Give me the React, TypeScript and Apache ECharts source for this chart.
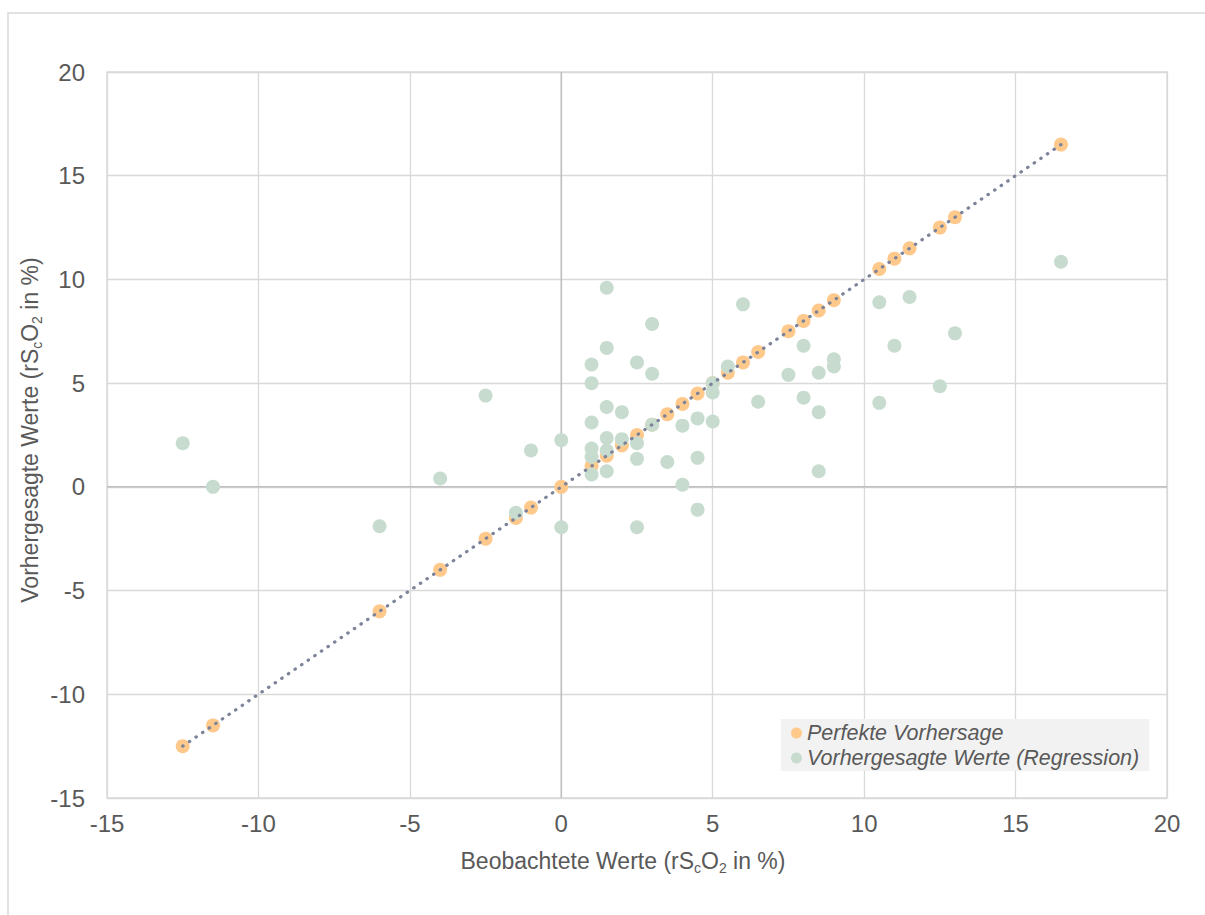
import React, { useEffect, useRef } from "react";
import * as echarts from "echarts";

// Observed values (x) and regression-predicted values (y) of rScO2 in %
const observed = [
  -12.5, -11.5, -6, -4, -2.5, -1.5, -1, 0, 0,
  1, 1, 1, 1, 1, 1,
  1.5, 1.5, 1.5, 1.5, 1.5, 1.5,
  2, 2,
  2.5, 2.5, 2.5, 2.5,
  3, 3, 3,
  3.5,
  4, 4,
  4.5, 4.5, 4.5,
  5, 5, 5,
  5.5, 6, 6.5, 7.5,
  8, 8,
  8.5, 8.5, 8.5,
  9, 9,
  10.5, 10.5, 11, 11.5, 12.5, 13, 16.5,
];
const predicted = [
  2.1, 0.0, -1.9, 0.4, 4.4, -1.25, 1.75, 2.25, -1.95,
  5.9, 5.0, 3.1, 1.85, 1.45, 0.6,
  9.6, 6.7, 3.85, 2.35, 1.75, 0.75,
  3.6, 2.3,
  6.0, 2.1, 1.35, -1.95,
  7.85, 5.45, 3.0,
  1.2,
  2.95, 0.1,
  3.3, 1.4, -1.1,
  5.0, 4.55, 3.15,
  5.8, 8.8, 4.1, 5.4,
  6.8, 4.3,
  5.5, 3.6, 0.75,
  6.15, 5.8,
  8.9, 4.05, 6.8, 9.15, 4.85, 7.4, 10.85,
];

const axisMin = -15;
const axisMax = 20;
const axisStep = 5;

const seriesNames = ["Perfekte Vorhersage", "Vorhergesagte Werte (Regression)"];

const FONT = "'Liberation Sans', Arial, sans-serif";
const TEXT = "#595959";

export default function App() {
  const ref = useRef<HTMLDivElement>(null);

  useEffect(() => {
    if (!ref.current) return;
    const chart = echarts.init(ref.current, undefined, { renderer: "svg" });

    const uniqueObserved = Array.from(new Set(observed)).sort((a, b) => a - b);
    const perfect = uniqueObserved.map((v) => [v, v]);
    const regression = observed.map((v, i) => [v, predicted[i]]);
    const lo = uniqueObserved[0];
    const hi = uniqueObserved[uniqueObserved.length - 1];

    const axisCommon = {
      type: "value",
      min: axisMin,
      max: axisMax,
      interval: axisStep,
      axisLine: { show: false },
      axisTick: { show: false },
      splitLine: { show: true, lineStyle: { color: "#d9d9d9", width: 1.3 } },
    };

    const rich = {
      a: { fontSize: 23, fontFamily: FONT, fill: TEXT, lineHeight: 28 },
      s: { fontSize: 14, fontFamily: FONT, fill: TEXT, lineHeight: 15, verticalAlign: "bottom" },
    };

    chart.setOption({
      animation: false,
      backgroundColor: "#ffffff",
      textStyle: { fontFamily: FONT },
      grid: {
        left: 107,
        top: 72,
        right: 38,
        bottom: 117,
        show: true,
        borderColor: "#d9d9d9",
        borderWidth: 1.3,
        backgroundColor: "transparent",
      },
      xAxis: {
        ...axisCommon,
        axisLabel: { fontSize: 24, color: TEXT, margin: 13, fontFamily: FONT },
      },
      yAxis: {
        ...axisCommon,
        axisLabel: { fontSize: 24, color: TEXT, margin: 22, fontFamily: FONT },
      },
      legend: {
        data: seriesNames,
        orient: "vertical",
        left: 781,
        top: 719,
        padding: [3, 10, 2, 10],
        itemGap: 3,
        itemWidth: 11,
        itemHeight: 11,
        icon: "circle",
        backgroundColor: "#f2f2f2",
        textStyle: { fontSize: 21.5, fontStyle: "italic", color: TEXT, fontFamily: FONT },
      },
      graphic: [
        {
          type: "rect",
          silent: true,
          shape: { x: 8, y: 13, width: 1400, height: 1100 },
          style: { fill: "none", stroke: "#d9d9d9", lineWidth: 1.5 },
          z: -1,
        },
        {
          type: "text",
          x: 623,
          y: 861,
          style: {
            text: "{a|Beobachtete Werte (rS}{s|c}{a|O}{s|2}{a| in %)}",
            rich,
            fill: TEXT,
            align: "center",
            verticalAlign: "middle",
          },
        },
        {
          type: "text",
          x: 30,
          y: 430,
          rotation: Math.PI / 2,
          style: {
            text: "{a|Vorhergesagte Werte (rS}{s|c}{a|O}{s|2}{a| in %)}",
            rich,
            fill: TEXT,
            align: "center",
            verticalAlign: "middle",
          },
        },
      ],
      series: [
        {
          type: "line",
          silent: true,
          z: 1,
          symbol: "none",
          data: [
            [0, axisMin],
            [0, axisMax],
          ],
          lineStyle: { color: "#bfbfbf", width: 1.5 },
        },
        {
          type: "line",
          silent: true,
          z: 1,
          symbol: "none",
          data: [
            [axisMin, 0],
            [axisMax, 0],
          ],
          lineStyle: { color: "#bfbfbf", width: 1.5 },
        },
        {
          name: seriesNames[0],
          type: "scatter",
          z: 2,
          symbolSize: 14,
          itemStyle: { color: "#ffc98c", opacity: 1 },
          data: perfect,
        },
        {
          name: seriesNames[1],
          type: "scatter",
          z: 3,
          symbolSize: 14,
          itemStyle: { color: "#c7dccf", opacity: 1 },
          data: regression,
        },
        {
          type: "line",
          silent: true,
          z: 4,
          symbol: "none",
          data: [
            [lo, lo],
            [hi, hi],
          ],
          lineStyle: { color: "#7d8398", width: 3.2, type: [0.5, 7.5], cap: "round" },
        },
      ],
    });

    return () => chart.dispose();
  }, []);

  return (
    <div
      ref={ref}
      style={{ position: "fixed", left: 0, top: 0, width: 1205, height: 915 }}
    />
  );
}
